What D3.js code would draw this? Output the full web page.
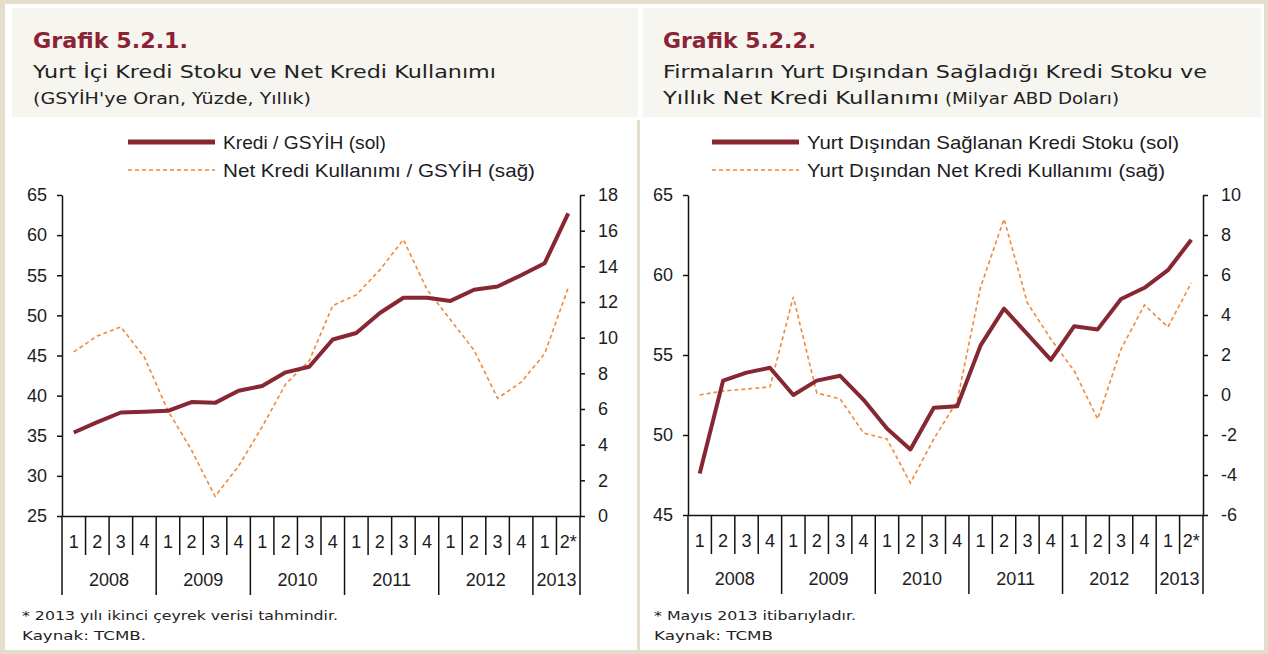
<!DOCTYPE html>
<html lang="tr">
<head>
  <meta charset="utf-8">
  <style>
    body { margin: 0; background: #fff; }
    .axis path, .axis line { stroke: #111; stroke-width: 1.5px; }
    .axis text { font: 18px "Liberation Sans", Arial, sans-serif; fill: #1c1c24; }
    .sep { stroke: #111; stroke-width: 1.5px; }
    .year { font: 18px "Liberation Sans", Arial, sans-serif; fill: #1c1c24; }
    .stock { fill: none; stroke: #862733; stroke-width: 4px; stroke-linejoin: round; }
    .flow { fill: none; stroke: #f0893a; stroke-width: 1.6px; stroke-dasharray: 4 3; }
    .legend { font: 19px "Liberation Sans", Arial, sans-serif; fill: #1c1c24; }
    .title { font: bold 21px "DejaVu Sans", sans-serif; fill: #8c2334; }
    .sub { font: 18px "DejaVu Sans", sans-serif; fill: #222; }
    .sub2 { font: 15px "DejaVu Sans", sans-serif; fill: #222; }
    .note { font: 13px "DejaVu Sans", sans-serif; fill: #222; }
  </style>
  <script src="https://d3js.org/d3.v7.min.js"></script>
</head>
<body>
  <script>
    // categories
    const quarterLabels = ["1","2","3","4","1","2","3","4","1","2","3","4","1","2","3","4","1","2","3","4","1","2*"];
    const yearLabels = ["2008","2009","2010","2011","2012","2013"];
    const quartersPerYear = [4, 4, 4, 4, 4, 2];

    // Grafik 5.2.1 (GSYİH'ye oran, %)
    const krediGsyih = [35.4, 36.7, 37.9, 38.0, 38.1, 39.2, 39.1, 40.6, 41.2, 42.9, 43.6,
                        47.0, 47.8, 50.3, 52.2, 52.2, 51.8, 53.2, 53.6, 55.0, 56.5, 62.7];
    const netKrediGsyih = [9.2, 10.1, 10.6, 8.9, 5.9, 3.7, 1.1, 2.8, 5.0, 7.4, 8.7,
                           11.8, 12.4, 13.8, 15.5, 12.7, 11.0, 9.3, 6.6, 7.5, 9.1, 12.8];
    const leftTicks1 = [25, 30, 35, 40, 45, 50, 55, 60, 65];
    const rightTicks1 = [0, 2, 4, 6, 8, 10, 12, 14, 16, 18];

    // Grafik 5.2.2 (milyar ABD doları)
    const disKrediStok = [47.6, 53.4, 53.9, 54.2, 52.5, 53.4, 53.7, 52.2, 50.4, 49.1, 51.7,
                          51.8, 55.6, 57.9, 56.3, 54.7, 56.8, 56.6, 58.5, 59.2, 60.3, 62.2];
    const disNetKredi = [0.0, 0.2, 0.3, 0.4, 4.9, 0.1, -0.2, -1.9, -2.2, -4.4, -2.2,
                         -0.3, 5.4, 8.8, 4.6, 2.8, 1.2, -1.2, 2.3, 4.5, 3.4, 5.6];
    const leftTicks2 = [45, 50, 55, 60, 65];
    const rightTicks2 = [-6, -4, -2, 0, 2, 4, 6, 8, 10];

    const W = 1268, H = 654;
    const svg = d3.select("body").append("svg")
      .attr("width", W)
      .attr("height", H);

    // frame and header boxes
    svg.append("rect").attr("width", W).attr("height", H).attr("fill", "#e4ddcc");
    svg.append("rect").attr("x", 5).attr("y", 4).attr("width", 1259).attr("height", 646).attr("fill", "#fff");
    svg.append("rect").attr("x", 12).attr("y", 8).attr("width", 626).attr("height", 109).attr("fill", "#f6f5f0");
    svg.append("rect").attr("x", 643).attr("y", 8).attr("width", 618).attr("height", 109).attr("fill", "#f6f5f0");
    svg.append("rect").attr("x", 637).attr("y", 120).attr("width", 3).attr("height", 534).attr("fill", "#e4ddcc");

    function txt(cls, x, y, s, len) {
      const t = svg.append("text").attr("class", cls).attr("x", x).attr("y", y).text(s);
      if (len) t.attr("textLength", len).attr("lengthAdjust", "spacingAndGlyphs");
      return t;
    }

    function drawPanel(cfg) {
      const g = svg.append("g");
      const n = cfg.stock.length;

      const x = d3.scaleBand().domain(d3.range(n)).range([cfg.x0, cfg.x1]);
      const yL = d3.scaleLinear().domain(d3.extent(cfg.leftTicks)).range([cfg.y1, cfg.y0]);
      const yR = d3.scaleLinear().domain(d3.extent(cfg.rightTicks)).range([cfg.y1, cfg.y0]);

      g.append("g").attr("class", "axis")
        .attr("transform", `translate(0,${cfg.y1})`)
        .call(d3.axisBottom(x).tickSize(0).tickSizeOuter(0).tickPadding(19)
          .tickFormat(i => quarterLabels[i]));

      g.append("g").attr("class", "axis")
        .attr("transform", `translate(${cfg.x0},0)`)
        .call(d3.axisLeft(yL).tickValues(cfg.leftTicks).tickSize(5).tickSizeOuter(0)
          .tickPadding(10).tickFormat(d => String(d)));

      g.append("g").attr("class", "axis")
        .attr("transform", `translate(${cfg.x1},0)`)
        .call(d3.axisRight(yR).tickValues(cfg.rightTicks).tickSize(5).tickSizeOuter(0)
          .tickPadding(13).tickFormat(d => String(d)));

      // quarter / year separators under the axis
      const yearStarts = [0, ...Array.from(d3.cumsum(quartersPerYear))];
      const bx = i => (i < n ? x(i) : cfg.x1);
      g.selectAll(".sep").data(d3.range(n + 1)).join("line")
        .attr("class", "sep")
        .attr("x1", bx).attr("x2", bx)
        .attr("y1", cfg.y1)
        .attr("y2", i => cfg.y1 + (yearStarts.includes(i) ? 79 : 39));

      g.selectAll(".year").data(yearLabels).join("text")
        .attr("class", "year")
        .attr("x", (d, k) => (bx(yearStarts[k]) + bx(yearStarts[k + 1])) / 2)
        .attr("y", cfg.y1 + 70)
        .attr("text-anchor", "middle")
        .text(d => d);

      const cx = (d, i) => x(i) + x.bandwidth() / 2;
      g.append("path").datum(cfg.flow).attr("class", "flow")
        .attr("d", d3.line().x(cx).y(d => yR(d)));
      g.append("path").datum(cfg.stock).attr("class", "stock")
        .attr("d", d3.line().x(cx).y(d => yL(d)));

      // legend
      const lg = g.append("g");
      lg.append("line").attr("class", "stock").style("stroke-width", "5px")
        .attr("x1", cfg.legX).attr("x2", cfg.legX + 87).attr("y1", 142).attr("y2", 142);
      lg.append("line").attr("class", "flow")
        .attr("x1", cfg.legX).attr("x2", cfg.legX + 87).attr("y1", 170).attr("y2", 170);
      cfg.legend.forEach((s, k) => {
        lg.append("text").attr("class", "legend")
          .attr("x", cfg.legX + 95).attr("y", 142 + 28 * k)
          .attr("dy", "0.35em")
          .attr("textLength", cfg.legendLen[k]).attr("lengthAdjust", "spacingAndGlyphs")
          .text(s);
      });
    }

    drawPanel({
      x0: 62, x1: 580, y0: 195, y1: 516, legX: 128,
      stock: krediGsyih, flow: netKrediGsyih,
      leftTicks: leftTicks1, rightTicks: rightTicks1,
      legend: ["Kredi / GSYİH (sol)", "Net Kredi Kullanımı / GSYİH (sağ)"],
      legendLen: [163, 312]
    });

    drawPanel({
      x0: 688, x1: 1203, y0: 195, y1: 515, legX: 712,
      stock: disKrediStok, flow: disNetKredi,
      leftTicks: leftTicks2, rightTicks: rightTicks2,
      legend: ["Yurt Dışından Sağlanan Kredi Stoku (sol)", "Yurt Dışından Net Kredi Kullanımı (sağ)"],
      legendLen: [372, 358]
    });

    // headers
    txt("title", 33, 48, "Grafik 5.2.1.", 155);
    txt("sub", 33, 78, "Yurt İçi Kredi Stoku ve Net Kredi Kullanımı", 463);
    txt("sub2", 33, 104, "(GSYİH'ye Oran, Yüzde, Yıllık)", 278);

    txt("title", 663, 48, "Grafik 5.2.2.", 153);
    txt("sub", 663, 78, "Firmaların Yurt Dışından Sağladığı Kredi Stoku ve", 544);
    txt("sub", 663, 104, "Yıllık Net Kredi Kullanımı", 276);
    txt("sub2", 945, 104, "(Milyar ABD Doları)", 174);

    // notes
    txt("note", 22, 620, "* 2013 yılı ikinci çeyrek verisi tahmindir.", 316);
    txt("note", 22, 640, "Kaynak: TCMB.", 124);
    txt("note", 654, 620, "* Mayıs 2013 itibarıyladır.", 202);
    txt("note", 654, 640, "Kaynak: TCMB", 119);
  </script>
</body>
</html>
